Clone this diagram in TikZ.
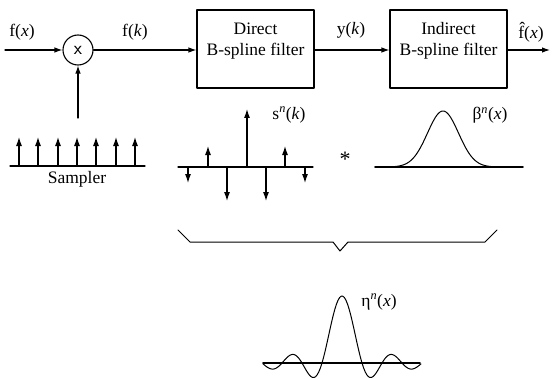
\documentclass[tikz,border=0pt]{standalone}
\usepackage{fontspec}
\setmainfont{Liberation Serif}
\usetikzlibrary{calc,arrows.meta}
\tikzset
{
  signal/.style={line width=1.1pt,-{Latex[length=8pt,width=5.5pt]}},
  impulse/.style={line width=1.1pt,-{Latex[length=9pt,width=6pt]}},
  filterbox/.style={draw,line width=1.1pt,minimum width=117pt,minimum height=78pt},
  boxtext/.style={align=center,font=\fontsize{17.5}{20.5}\selectfont},
  mixer/.style={draw,circle,line width=1.1pt,minimum size=30pt,inner sep=0pt,font=\sffamily\fontsize{19}{20}\selectfont},
  axisline/.style={line width=1.7pt},
  waveform/.style={line width=1pt},
  bracket/.style={line width=1pt}
}

\begin{document}
\begin{tikzpicture}[x=1pt,y=1pt,line cap=round,line join=round,font=\fontsize{17.5}{20}\selectfont]
            \useasboundingbox (0,0) rectangle (553,378);
            % tocke
            \coordinate (In)  at (5,328);
            \coordinate (Out) at (550,328);
            \coordinate (Smp) at (78,260);

            % bloki
            \node[mixer] (M) at (78,328) {x};
            \node[filterbox] (D) at (255.5,329) {};
            \node[filterbox] (I) at (448.5,329) {};
            \node[boxtext] (Dt) at ($(D.center)+(0,8)$) {Direct\\B-spline filter};
            \node[boxtext] (It) at ($(I.center)+(0,8)$) {Indirect\\B-spline filter};

            % signali
            \draw[signal] (In) -- (M);
            \draw[signal] (M) -- (M -| D.west);
            \draw[signal] (M -| D.east) -- (M -| I.west);
            \draw[signal] (M -| I.east) -- (Out);
            \draw[signal] (Smp) -- (M);
            \node (fx) at (22,346) {f(\textit{x})};
            \node (fk) at (135,346) {f(\textit{k})};
            \node (yk) at (351,348) {y(\textit{k})};
            \node (fh) at (531,346) {\^{f}(\textit{x})};

            % vzorcevalnik
            \draw[axisline,line width=1.3pt] (10,212) -- (145,212);
            \foreach\i in{19,38,58,77,96,116,135}
              \draw[impulse] (\i,212) -- (\i,241);
            \node (Sl) at (77,199) {Sampler};

            % s^n(k)
            \draw[axisline,line width=1.3pt] (178,211) -- (313,211);
            \foreach\i/\h in{188/-16,208/21,227/-34,247/58,266/-34,285/21,305/-16}
              \draw[impulse] (\i,211) -- ++(0,\h);
            \node (sn) at (289,263) {s\textsuperscript{\textit{n}}(\textit{k})};
            \node[font=\fontsize{22}{22}\selectfont] (conv) at (345,219) {*};

            % beta^n(x)
            \draw[axisline] (375,211) -- (523,211);
            \draw[waveform] plot[domain=-60:60,samples=81] ({443+\x},{211+56*exp(-(\x*\x)/480.5)});
            \node (bn) at (490,263) {β\textsuperscript{\textit{n}}(\textit{x})};

            % oklepaj
            \draw[bracket] (178,148) -- (190,136) -- (333,136) -- (340,127) -- (348,136) -- (485,136) -- (497,148);

            % eta^n(x)
            \draw[axisline] (263,15) -- (420,15);
            \draw[waveform] plot[domain=-3.95:3.95,samples=100] ({342+20*\x},{15+67*sin(180*\x)/(pi*\x)});
            \node (en) at (379,76) {η\textsuperscript{\textit{n}}(\textit{x})};
        \end{tikzpicture}
\end{document}
